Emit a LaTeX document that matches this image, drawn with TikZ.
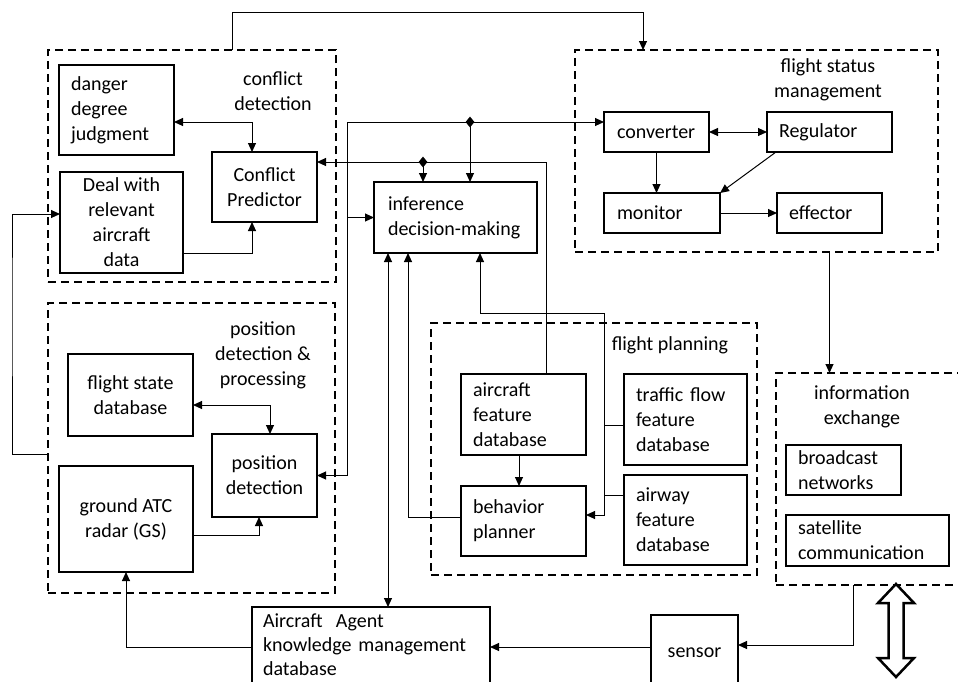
\documentclass[tikz,border=0pt]{standalone}
\usepackage{fontspec}
\setmainfont{Carlito}
\usetikzlibrary{arrows.meta,shapes.geometric}
\hyphenpenalty=10000
\exhyphenpenalty=10000
\begin{document}
\begin{tikzpicture}[x=1pt,y=-1pt,
        blk/.style={draw, line width=1.2pt, inner sep=0pt, outer sep=0pt, font=\fontsize{20}{25}\selectfont},
        lbox/.style n args={3}{blk, minimum width=#1pt, minimum height=#2pt, text width=#3pt, align=left},
        cbox/.style 2 args={blk, minimum width=#1pt, minimum height=#2pt, align=center},
        grp/.style 2 args={draw, line width=2.5pt, dash pattern=on 8pt off 5pt, minimum width=#1pt, minimum height=#2pt, inner sep=0pt, outer sep=0pt},
        lbl/.style={align=center, font=\fontsize{20}{25}\selectfont},
        wire/.style={line width=1pt},
        arr/.style={wire, -{Triangle[length=9pt,width=8pt]}},
        darr/.style={wire, {Triangle[length=9pt,width=8pt]}-{Triangle[length=9pt,width=8pt]}},
        joint/.style={diamond, fill, inner sep=0pt, minimum width=9pt, minimum height=11pt}
    ]
        \useasboundingbox (0,0) rectangle (958,681);
        \clip (0,0) rectangle (958,681);

        % Dashed groups
        \node[grp={288}{232}] (cdet) at (192,166) {};
        \node[grp={287}{290}] (pdet) at (191.5,448) {};
        \node[grp={363}{202}] (fsm) at (756.5,151) {};
        \node[grp={326}{252}] (fplan) at (594,449) {};
        \node[grp={190}{212}] (iex) at (871,479) {};

        \node[lbl] (cdetlbl) at (273,91) {conflict\\detection};
        \node[lbl] (pdetlbl) at (263,355) {position\\detection \&\\processing};
        \node[lbl] (fsmlbl) at (828,80) {flight status\\management};
        \node[lbl] (fplanlbl) at (670,345) {flight planning};
        \node[lbl] (iexlbl) at (862,407) {information\\exchange};

        % Conflict detection
        \node[lbox={115}{90}{91}] (danger) at (116.5,110) {danger\\degree\\judgment};
        \node[cbox={123}{101}] (deal) at (121.5,222.5) {Deal with\\relevant\\aircraft\\data};
        \node[cbox={105}{70}] (predictor) at (264.5,187) {Conflict\\Predictor};

        % Inference
        \node[lbox={163}{71}{135}] (infer) at (455.5,217.5) {inference\\\mbox{decision-making}};

        % Flight status management
        \node[lbox={105}{40}{79}] (conv) at (656.5,132) {converter};
        \node[lbox={125}{40}{101}] (regul) at (829.5,132) {Regulator};
        \node[lbox={116}{40}{90}] (monit) at (662,213) {monitor};
        \node[lbox={105}{40}{81}] (effect) at (829.5,213) {effector};

        % Position detection
        \node[cbox={125}{82}] (fsdb) at (130.5,395) {flight state\\database};
        \node[cbox={105}{83}] (posdet) at (264.5,475.5) {position\\detection};
        \node[cbox={134}{106}] (radar) at (126,519) {ground ATC\\radar (GS)};

        % Flight planning
        \node[lbox={125}{81}{101}] (acfdb) at (523.5,414.5) {aircraft\\feature\\database};
        \node[lbox={125}{70}{101}] (planner) at (523.5,521) {behavior\\planner};
        \node[lbox={123}{91}{99}] (tfdb) at (685.5,419.5) {traffic flow\\feature\\database};
        \node[lbox={123}{90}{99}] (awdb) at (685.5,520) {airway\\feature\\database};

        % Information exchange
        \node[lbox={115}{50}{91}] (bcast) at (843.5,470) {broadcast\\networks};
        \node[lbox={163}{51}{139}] (satcom) at (867.5,540.5) {satellite\\communication};

        % Bottom row
        \node[lbox={238}{76}{216}, font=\fontsize{20}{24}\selectfont] (agent) at (371,645) {Aircraft\ \ Agent\\knowledge management\\database};
        \node[cbox={87}{76}] (sensor) at (694.5,653) {sensor};

        % Connectors
        \coordinate (tl) at (232,12);
        \coordinate (tr) at (643,12);
        \draw[arr] (cdet.north -| tl) -- (tl) -- (tr) -- (fsm.north -| tr);

        \draw[darr] ([yshift=-12pt]danger.east) -| ([xshift=-12.5pt]predictor.north);
        \draw[arr] ([yshift=-30.5pt]deal.east) -| ([xshift=-12.5pt]predictor.south);

        \coordinate (lft) at (12,300);
        \draw[arr] ([yshift=-6pt]pdet.west) -| (lft) |- ([yshift=8.5pt]deal.west);

        \coordinate (b1) at (347,122);
        \coordinate (j1) at (470,122);
        \draw[arr] (b1) -- (conv.west |- b1);
        \draw[arr] (b1) |- (posdet.east);
        \draw[arr] (b1 |- infer.west) -- (infer.west);
        \draw[arr] (j1) -- (j1 |- infer.north);

        \coordinate (j2) at (423,162);
        \draw[arr] ([xshift=22.5pt]acfdb.north) |- ([yshift=25pt]predictor.east);
        \draw[arr] (j2) -- (j2 |- infer.north);

        \coordinate (r1) at (604,313);
        \draw[arr] (r1) -| ([xshift=24.5pt]infer.south);
        \draw[arr] (r1) |- ([yshift=6pt]planner.east);
        \draw[wire] ([yshift=-5.5pt]tfdb.west) -| (r1);
        \draw[wire] ([yshift=25pt]awdb.west) -| (r1);

        \draw[arr] ([yshift=4pt]planner.west) -| ([xshift=-47.5pt]infer.south);
        \draw[arr] ([xshift=-4.5pt]acfdb.south) -- ([xshift=-4.5pt]planner.north);
        \draw[darr] ([xshift=17pt]agent.north) -- ([xshift=-67.5pt]infer.south);
        \draw[arr] ([yshift=-2pt]agent.west) -| (radar.south);
        \draw[arr] ([yshift=6pt]sensor.west) -- ([yshift=-2pt]agent.east);
        \draw[arr] ([xshift=-18pt]iex.south) |- ([yshift=8pt]sensor.east);
        \draw[arr] (fsm.south -| effect) -- (iex.north -| effect);

        \draw[darr] (conv) -- (regul);
        \draw[arr] (conv.south) -- (conv.south |- monit.north);
        \draw[arr] ([xshift=9pt]regul.south west) -- (monit.north east);
        \draw[arr] (monit) -- (effect);

        \draw[darr] ([yshift=-10pt]fsdb.east) -| ([xshift=5.5pt]posdet.north);
        \draw[arr] ([yshift=-16pt]radar.east) -| ([xshift=-5.5pt]posdet.south);

        \node[joint] (d1) at (j1) {};
        \node[joint] (d2) at (j2) {};

        % Outlined double arrow
        \coordinate (dbl) at (896,584);
        \draw[line width=2.5pt, fill=white] (dbl) -- ++(18,19) -- ++(-10.5,0) -- ++(0,55)
            -- ++(10.5,0) -- ++(-18,19) -- ++(-18,-19) -- ++(10.5,0) -- ++(0,-55) -- ++(-10.5,0) -- cycle;
    \end{tikzpicture}
\end{document}
